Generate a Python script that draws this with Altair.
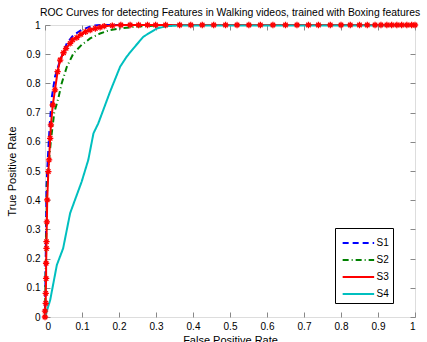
import altair as alt
import pandas as pd

# ---- data ----
s1_fpr = [0.0, 0.002, 0.004, 0.008, 0.012, 0.018, 0.027, 0.041, 0.059, 0.077, 0.099, 0.126, 0.150, 0.300, 1.0]
s1_tpr = [0.0, 0.20, 0.45, 0.55, 0.64, 0.749, 0.823, 0.880, 0.937, 0.966, 0.983, 0.997, 1.0, 1.0, 1.0]

s2_fpr = [0.0, 0.003, 0.006, 0.012, 0.016, 0.025, 0.036, 0.045, 0.059, 0.077, 0.099, 0.122, 0.149, 0.176, 0.203, 0.250, 0.300, 0.350, 1.0]
s2_tpr = [0.0, 0.25, 0.45, 0.55, 0.606, 0.70, 0.749, 0.80, 0.857, 0.903, 0.932, 0.954, 0.971, 0.983, 0.988, 0.995, 0.998, 1.0, 1.0]

s3_fpr = [0.000, 0.000, 0.002, 0.002, 0.003, 0.003, 0.004, 0.004, 0.005, 0.006, 0.009, 0.011, 0.014, 0.016,
          0.021, 0.027, 0.034, 0.041, 0.050, 0.057, 0.068, 0.075, 0.086, 0.097, 0.110, 0.122, 0.136, 0.149,
          0.160, 0.182, 0.205, 0.230, 0.253, 0.277, 0.299, 0.326, 0.364, 0.394, 0.425, 0.456, 0.488, 0.519,
          0.551, 0.582, 0.616, 0.650, 0.681, 0.712, 0.739, 0.771, 0.800, 0.825, 0.850, 0.871, 0.892, 0.908,
          0.924, 0.937, 0.951, 0.964, 0.978, 0.991, 1.000]
s3_tpr = [0.000, 0.020, 0.047, 0.081, 0.132, 0.184, 0.235, 0.258, 0.326, 0.401, 0.498, 0.538, 0.612, 0.658,
          0.726, 0.778, 0.840, 0.880, 0.905, 0.920, 0.937, 0.949, 0.957, 0.968, 0.977, 0.983, 0.988, 0.992,
          0.996, 0.998, 1.0, 1.0, 1.0, 1.0, 1.0, 1.0, 1.0, 1.0, 1.0, 1.0, 1.0, 1.0,
          1.0, 1.0, 1.0, 1.0, 1.0, 1.0, 1.0, 1.0, 1.0, 1.0, 1.0, 1.0, 1.0, 1.0,
          1.0, 1.0, 1.0, 1.0, 1.0, 1.0, 1.0]

s4_fpr = [0.0, 0.014, 0.032, 0.049, 0.068, 0.099, 0.117, 0.131, 0.144, 0.176, 0.203, 0.221, 0.239, 0.266, 0.302, 0.329, 0.356, 1.0]
s4_tpr = [0.0, 0.058, 0.178, 0.235, 0.356, 0.463, 0.538, 0.629, 0.663, 0.772, 0.857, 0.892, 0.920, 0.960, 0.988, 0.996, 0.998, 0.998]

series_names = ["S1", "S2", "S3", "S4"]
series_colors = ["#0000ff", "#008000", "#ff0000", "#00bfbf"]
series_dash = [[6, 4], [6, 3, 1, 3], [1, 0], [1, 0]]
tick_values = [0, 0.1, 0.2, 0.3, 0.4, 0.5, 0.6, 0.7, 0.8, 0.9, 1.0]

title_text = "ROC Curves for detecting Features in Walking videos, trained with Boxing features"
x_title = "False Positive Rate"
y_title = "True Positive Rate"

rows = []
for name, xs, ys in zip(series_names, [s1_fpr, s2_fpr, s3_fpr, s4_fpr], [s1_tpr, s2_tpr, s3_tpr, s4_tpr]):
    for i, (a, b) in enumerate(zip(xs, ys)):
        rows.append({"series": name, "fpr": a, "tpr": b, "idx": i})
df = pd.DataFrame(rows)
df_s3 = df[df.series == "S3"]

FONT = "Liberation Sans"
xscale = alt.Scale(domain=[0, 1], nice=False, zero=False)
yscale = alt.Scale(domain=[0, 1], nice=False, zero=False)

lines = alt.Chart(df).mark_line(strokeWidth=2).encode(
    x=alt.X("fpr:Q", scale=xscale, title=x_title,
            axis=alt.Axis(values=tick_values, format=".1~f", orient="bottom", offset=-5, tickSize=5,
                          domain=False, grid=False, labelPadding=4, titlePadding=3,
                          titleFontWeight="normal")),
    y=alt.Y("tpr:Q", scale=yscale, title=y_title,
            axis=alt.Axis(values=tick_values, format=".1~f", orient="left", offset=-5, tickSize=5,
                          domain=False, grid=False, labelPadding=5, titlePadding=9,
                          titleFontWeight="normal")),
    color=alt.Color("series:N", scale=alt.Scale(domain=series_names, range=series_colors),
                    legend=alt.Legend(title=None, orient="none", legendX=290, legendY=203,
                                      strokeColor="black", fillColor="white", padding=3.5,
                                      symbolType="M-0.7,0L2.3,0", symbolStrokeWidth=2, symbolSize=441,
                                      labelFontSize=10, labelFont=FONT, labelOffset=15, rowPadding=0)),
    strokeDash=alt.StrokeDash("series:N", scale=alt.Scale(domain=series_names, range=series_dash)),
    order="idx:Q",
)

markers = alt.Chart(df_s3).mark_point(
    shape="M-1,0L1,0M0,-1L0,1M-0.7,-0.7L0.7,0.7M-0.7,0.7L0.7,-0.7",
    filled=False, color="#ff0000", strokeWidth=1.3, size=40, opacity=1,
).encode(x=alt.X("fpr:Q", scale=xscale, axis=None), y=alt.Y("tpr:Q", scale=yscale, axis=None))

mirror = alt.Chart(df_s3).mark_point(opacity=0, size=1).encode(
    x=alt.X("fpr:Q", scale=xscale, title=None,
            axis=alt.Axis(values=tick_values, orient="top", offset=-5, tickSize=5, labels=False,
                          domain=False, grid=False)),
    y=alt.Y("tpr:Q", scale=yscale, title=None,
            axis=alt.Axis(values=tick_values, orient="right", offset=-5, tickSize=5, labels=False,
                          domain=False, grid=False)),
)

chart = alt.layer(lines, markers, mirror).resolve_axis(x="independent", y="independent").properties(
    width=370, height=292,
    title=alt.Title(title_text, fontSize=10.4, font=FONT, fontWeight="normal", anchor="middle", offset=1),
    autosize="none",
    padding={"left": 45, "top": 25, "right": 12, "bottom": 25},
).configure_view(stroke="black", strokeWidth=1).configure_axis(
    labelFont=FONT, titleFont=FONT, labelFontSize=10, titleFontSize=10, titleFontWeight="normal",
    tickColor="black", labelColor="black", titleColor="black", tickWidth=1,
).configure(background="white")

chart.save("out.html", embed_options={"renderer": "svg", "actions": False})
